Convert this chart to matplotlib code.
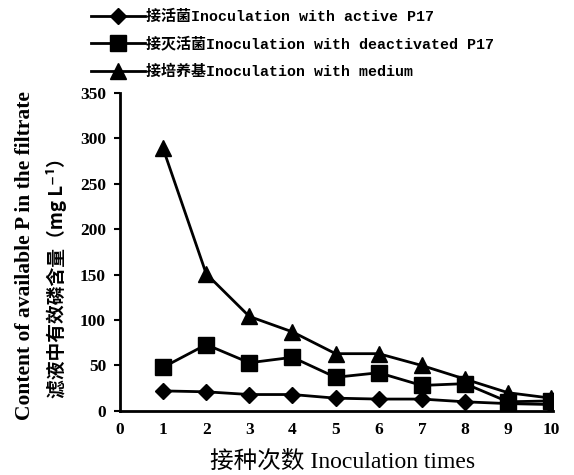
import matplotlib
matplotlib.use('Agg')
import matplotlib.pyplot as plt

# inoculation times
times = [1, 2, 3, 4, 5, 6, 7, 8, 9, 10]

# available P in filtrate (mg/L)
active = [22, 21, 18, 18, 14, 13, 13, 10, 8, 7]
deactivated = [48, 73, 53, 59, 37, 42, 28, 30, 10, 11]
medium = [289, 151, 104, 87, 63, 63, 50, 35, 20, 14]

labels = ['接活菌Inoculation with active P17',
          '接灭活菌Inoculation with deactivated P17',
          '接培养基Inoculation with medium']

serif = ['Liberation Serif', 'Noto Sans CJK SC']
cjk = ['Noto Sans CJK SC', 'DejaVu Sans']
mono = ['Liberation Mono', 'Noto Sans CJK SC']

fig = plt.figure(figsize=(5.74, 4.75), dpi=100)
ax = fig.add_axes([0.209, 0.135, 0.755, 0.669])

ax.plot(times, active, color='black', lw=2, marker='D', ms=8, label=labels[0])
ax.plot(times, deactivated, color='black', lw=2, marker='s', ms=12, label=labels[1])
ax.plot(times, medium, color='black', lw=2, marker='^', ms=11, label=labels[2])

ax.set_xlim(0, 10.05)
ax.set_ylim(0, 350)
ax.set_xticks(range(0, 11))
ax.set_yticks(range(0, 351, 50))
ax.spines['top'].set_visible(False)
ax.spines['right'].set_visible(False)
ax.spines['left'].set_linewidth(2)
ax.spines['bottom'].set_linewidth(2)
ax.tick_params(axis='x', length=0, pad=8)
ax.tick_params(axis='y', direction='out', length=4, width=1.5, pad=6)
for t in ax.get_xticklabels() + ax.get_yticklabels():
    t.set_family('Liberation Serif')
    t.set_fontweight('bold')
    t.set_fontsize(12.5)

fig.text(0.596, 0.027, '接种次数 Inoculation times', ha='center', va='center',
         family=serif, fontsize=17)
fig.text(0.044, 0.463, 'Content of available P in the filtrate', rotation=90,
         ha='center', va='center', family=serif, fontweight='bold', fontsize=15.5)
fig.text(0.098, 0.425, '滤液中有效磷含量（mg L⁻¹）', rotation=90,
         ha='center', va='center', family=cjk, fontweight='bold', fontsize=13.5)

leg = fig.legend(loc='upper left', bbox_to_anchor=(0.135, 1.008), frameon=False,
                 handlelength=3.6, handletextpad=0.05, labelspacing=0.85,
                 prop={'family': mono, 'size': 10.8, 'weight': 'bold'})

fig.savefig('out.png', dpi=100)
